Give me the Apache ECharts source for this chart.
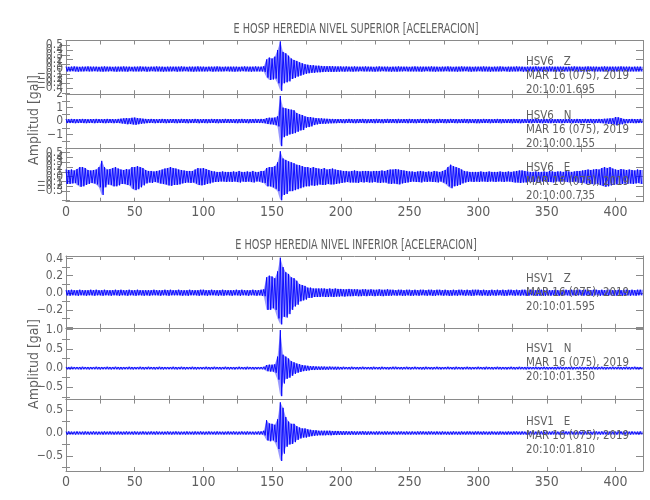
<!DOCTYPE html>
<html><head><meta charset="utf-8">
<script src="https://cdn.jsdelivr.net/npm/echarts@6/dist/echarts.min.js"></script>
<style>html,body{margin:0;padding:0;background:#fff}#c{width:650px;height:500px}</style>
</head><body><div id="c"></div>
<script>
// ---- time axis (seconds); amplitude envelopes read every 2 s (bin start = 2*i) ----
const xMax = 420;
const binStep = 2;
const xTickValues = [0, 50, 100, 150, 200, 250, 300, 350, 400];

const titleTop = 'E HOSP HEREDIA NIVEL SUPERIOR [ACELERACION]';
const titleBottom = 'E HOSP HEREDIA NIVEL INFERIOR [ACELERACION]';
const yAxisName = 'Amplitud [gal]';

const stations = ['HSV6   Z', 'HSV6   N', 'HSV6   E', 'HSV1   Z', 'HSV1   N', 'HSV1   E'];
const dates = ['MAR 16 (075), 2019', 'MAR 16 (075), 2019', 'MAR 16 (075), 2019', 'MAR 16 (075), 2019', 'MAR 16 (075), 2019', 'MAR 16 (075), 2019'];
const times = ['20:10:01.695', '20:10:00.155', '20:10:00.735', '20:10:01.595', '20:10:01.350', '20:10:01.810'];

// ---- HSV6 Z (upper level) ----
const z6Hi = [
.05,.045,.05,.055,.05,.045,.05,.05,.055,.05,
.05,.05,.045,.05,.055,.05,.05,.045,.05,.05,
.05,.055,.05,.05,.045,.05,.05,.055,.05,.05,
.045,.05,.05,.055,.05,.05,.045,.05,.05,.05,
.05,.05,.055,.05,.045,.05,.05,.05,.055,.05,
.05,.045,.05,.05,.05,.055,.05,.045,.05,.05,
.05,.05,.05,.045,.05,.055,.05,.05,.05,.055,
.05,.05,.06,.2,.24,.22,.26,.4,.58,.36,
.33,.28,.22,.19,.17,.14,.12,.1,.09,.08,
.08,.07,.07,.065,.06,.06,.06,.06,.055,.055,
.055,.05,.055,.05,.05,.055,.05,.05,.05,.055,
.05,.05,.045,.05,.055,.05,.05,.05,.045,.05,
.05,.055,.05,.05,.05,.045,.05,.055,.05,.05,
.05,.05,.05,.055,.05,.05,.045,.05,.05,.055,
.05,.045,.05,.05,.055,.05,.05,.05,.045,.05,
.05,.05,.055,.05,.05,.045,.05,.05,.055,.05,
.045,.05,.05,.05,.055,.05,.05,.045,.05,.05,
.05,.055,.05,.045,.05,.05,.055,.05,.05,.05,
.05,.05,.045,.05,.05,.055,.05,.05,.045,.05,
.055,.05,.05,.05,.045,.05,.055,.05,.05,.05,
.05,.05,.055,.05,.05,.05,.045,.05,.05,.05];
const z6Lo = [
-.05,-.05,-.045,-.05,-.055,-.05,-.05,-.045,-.05,-.05,
-.045,-.05,-.05,-.055,-.05,-.05,-.045,-.05,-.055,-.05,
-.05,-.05,-.055,-.045,-.05,-.05,-.05,-.05,-.045,-.055,
-.05,-.045,-.05,-.05,-.05,-.055,-.05,-.05,-.05,-.045,
-.055,-.05,-.05,-.045,-.05,-.05,-.055,-.05,-.05,-.05,
-.05,-.05,-.045,-.055,-.05,-.05,-.05,-.05,-.045,-.05,
-.05,-.055,-.05,-.05,-.045,-.05,-.05,-.055,-.05,-.05,
-.05,-.05,-.06,-.18,-.23,-.22,-.2,-.3,-.46,-.3,
-.28,-.26,-.21,-.19,-.16,-.14,-.12,-.1,-.09,-.08,
-.08,-.07,-.07,-.065,-.06,-.06,-.06,-.06,-.055,-.055,
-.05,-.055,-.05,-.05,-.055,-.05,-.05,-.045,-.05,-.05,
-.05,-.05,-.055,-.05,-.05,-.045,-.05,-.05,-.055,-.05,
-.055,-.05,-.05,-.045,-.05,-.05,-.05,-.05,-.05,-.055,
-.05,-.045,-.05,-.05,-.055,-.05,-.05,-.05,-.045,-.05,
-.05,-.05,-.055,-.05,-.05,-.045,-.05,-.055,-.05,-.05,
-.045,-.05,-.05,-.05,-.055,-.05,-.05,-.05,-.05,-.045,
-.05,-.055,-.05,-.05,-.05,-.045,-.055,-.05,-.05,-.05,
-.05,-.05,-.045,-.055,-.05,-.05,-.05,-.05,-.055,-.05,
-.055,-.05,-.05,-.05,-.045,-.05,-.05,-.055,-.05,-.05,
-.05,-.045,-.055,-.05,-.05,-.05,-.05,-.05,-.045,-.055,
-.05,-.05,-.05,-.045,-.055,-.05,-.05,-.05,-.05,-.05];

// ---- HSV6 N ----
const n6Hi = [
.15,.14,.16,.15,.14,.15,.16,.15,.14,.15,
.15,.16,.15,.14,.15,.16,.15,.15,.14,.16,
.18,.2,.22,.2,.24,.26,.22,.2,.18,.16,
.15,.16,.15,.14,.15,.16,.15,.14,.15,.15,
.15,.14,.16,.15,.15,.14,.15,.16,.15,.14,
.15,.15,.14,.16,.15,.15,.14,.15,.16,.15,
.15,.14,.15,.15,.16,.15,.14,.15,.15,.16,
.15,.16,.15,.22,.25,.24,.26,.35,1.87,1.0,
.95,.9,.85,.8,.6,.5,.45,.35,.3,.3,
.25,.22,.2,.2,.18,.17,.16,.16,.15,.15,
.15,.14,.15,.16,.15,.14,.15,.15,.16,.15,
.14,.15,.15,.16,.15,.14,.15,.16,.15,.15,
.15,.16,.14,.15,.15,.16,.15,.14,.15,.16,
.15,.15,.16,.15,.14,.15,.16,.15,.15,.14,
.16,.15,.15,.14,.15,.16,.15,.15,.14,.15,
.15,.14,.16,.15,.15,.14,.15,.16,.15,.15,
.14,.15,.15,.16,.15,.15,.14,.15,.16,.15,
.15,.16,.15,.14,.15,.16,.15,.15,.14,.15,
.15,.14,.15,.16,.15,.14,.16,.15,.15,.16,
.15,.16,.15,.15,.16,.15,.17,.18,.2,.2,
.3,.28,.22,.16,.15,.15,.16,.15,.15,.16];
const n6Lo = [
-.15,-.15,-.14,-.16,-.15,-.14,-.15,-.16,-.15,-.14,
-.16,-.15,-.14,-.15,-.16,-.15,-.14,-.16,-.15,-.15,
-.18,-.2,-.24,-.22,-.25,-.28,-.24,-.2,-.18,-.16,
-.15,-.14,-.16,-.15,-.15,-.14,-.16,-.15,-.14,-.15,
-.16,-.15,-.14,-.15,-.16,-.15,-.15,-.14,-.16,-.15,
-.15,-.16,-.15,-.14,-.15,-.16,-.15,-.15,-.14,-.15,
-.14,-.15,-.16,-.15,-.15,-.14,-.16,-.15,-.15,-.14,
-.15,-.15,-.16,-.22,-.24,-.25,-.3,-.4,-1.87,-1.2,
-1.1,-1.0,-.95,-.9,-.8,-.7,-.67,-.5,-.45,-.4,
-.3,-.25,-.22,-.2,-.2,-.18,-.17,-.16,-.16,-.15,
-.15,-.16,-.14,-.15,-.15,-.16,-.15,-.14,-.15,-.16,
-.15,-.14,-.16,-.15,-.15,-.16,-.14,-.15,-.15,-.14,
-.16,-.15,-.15,-.14,-.16,-.15,-.15,-.16,-.14,-.15,
-.15,-.16,-.14,-.15,-.16,-.15,-.14,-.15,-.16,-.15,
-.14,-.15,-.16,-.15,-.15,-.14,-.16,-.15,-.15,-.16,
-.16,-.15,-.15,-.14,-.16,-.15,-.15,-.14,-.16,-.15,
-.15,-.14,-.16,-.15,-.15,-.16,-.15,-.14,-.15,-.16,
-.14,-.15,-.15,-.16,-.14,-.15,-.16,-.15,-.15,-.14,
-.16,-.15,-.14,-.15,-.16,-.15,-.15,-.16,-.14,-.15,
-.15,-.15,-.16,-.14,-.15,-.16,-.18,-.2,-.22,-.24,
-.32,-.28,-.24,-.18,-.16,-.15,-.15,-.16,-.15,-.15];

// ---- HSV6 E ----
const e6Hi = [
.15,.14,.15,.13,.16,.2,.2,.18,.14,.13,
.14,.15,.2,.33,.2,.15,.16,.18,.2,.17,
.15,.14,.16,.15,.2,.2,.22,.2,.18,.14,
.12,.12,.11,.12,.13,.15,.17,.18,.2,.18,
.17,.15,.14,.13,.12,.12,.12,.15,.18,.17,
.18,.16,.14,.12,.11,.1,.1,.11,.1,.1,
.1,.11,.1,.12,.1,.1,.11,.1,.12,.1,
.1,.12,.12,.18,.2,.2,.22,.3,.53,.38,
.35,.32,.3,.28,.25,.24,.22,.2,.2,.18,
.2,.18,.17,.16,.18,.15,.16,.17,.15,.14,
.13,.12,.12,.11,.12,.13,.12,.11,.12,.12,
.12,.11,.12,.12,.12,.13,.12,.14,.15,.15,
.16,.15,.14,.13,.12,.11,.11,.1,.11,.12,
.11,.1,.11,.1,.12,.11,.1,.12,.14,.2,
.25,.22,.2,.18,.15,.12,.11,.1,.1,.1,
.1,.11,.1,.1,.11,.1,.1,.1,.11,.1,
.1,.11,.1,.11,.12,.13,.13,.12,.11,.1,
.1,.11,.1,.1,.11,.1,.12,.11,.1,.11,
.11,.1,.12,.11,.1,.11,.12,.12,.13,.14,
.15,.14,.15,.16,.15,.18,.2,.18,.2,.17,
.15,.14,.16,.15,.14,.15,.14,.13,.15,.14];
const e6Lo = [
-.15,-.15,-.14,-.13,-.17,-.21,-.2,-.17,-.15,-.13,
-.14,-.16,-.22,-.38,-.22,-.16,-.17,-.2,-.2,-.18,
-.15,-.15,-.17,-.18,-.25,-.28,-.26,-.22,-.18,-.14,
-.12,-.13,-.11,-.12,-.14,-.15,-.16,-.18,-.19,-.17,
-.17,-.16,-.14,-.13,-.12,-.13,-.12,-.14,-.17,-.18,
-.17,-.15,-.14,-.12,-.11,-.11,-.1,-.1,-.11,-.1,
-.11,-.1,-.11,-.12,-.1,-.11,-.1,-.11,-.12,-.1,
-.1,-.12,-.13,-.2,-.2,-.22,-.25,-.3,-.49,-.38,
-.36,-.3,-.3,-.28,-.26,-.24,-.22,-.2,-.2,-.18,
-.19,-.18,-.16,-.17,-.17,-.15,-.16,-.16,-.15,-.14,
-.13,-.12,-.11,-.12,-.12,-.12,-.13,-.11,-.12,-.11,
-.12,-.12,-.11,-.12,-.13,-.12,-.12,-.14,-.15,-.14,
-.15,-.16,-.14,-.13,-.12,-.11,-.1,-.11,-.11,-.12,
-.1,-.11,-.1,-.11,-.11,-.12,-.1,-.12,-.15,-.2,
-.24,-.2,-.19,-.17,-.14,-.12,-.11,-.1,-.11,-.1,
-.11,-.1,-.1,-.11,-.1,-.1,-.11,-.1,-.1,-.11,
-.1,-.1,-.11,-.12,-.12,-.13,-.12,-.12,-.1,-.11,
-.11,-.1,-.11,-.1,-.1,-.11,-.11,-.12,-.1,-.1,
-.1,-.11,-.11,-.12,-.11,-.1,-.12,-.13,-.12,-.15,
-.14,-.15,-.16,-.15,-.17,-.19,-.21,-.2,-.18,-.17,
-.16,-.15,-.15,-.14,-.15,-.14,-.15,-.14,-.13,-.15];

// ---- HSV1 Z (lower level) ----
const z1Hi = [
.03,.03,.035,.03,.03,.035,.03,.03,.03,.035,
.03,.035,.03,.03,.035,.03,.03,.03,.035,.03,
.035,.03,.03,.035,.03,.03,.035,.03,.03,.03,
.03,.03,.035,.03,.03,.03,.035,.03,.035,.03,
.03,.035,.03,.03,.03,.035,.03,.03,.03,.035,
.035,.03,.03,.035,.03,.03,.03,.035,.03,.03,
.03,.03,.035,.03,.035,.03,.03,.03,.035,.03,
.03,.035,.04,.18,.2,.19,.17,.25,.41,.3,
.24,.22,.18,.17,.14,.1,.09,.08,.06,.06,
.05,.05,.05,.05,.05,.045,.05,.045,.05,.045,
.045,.04,.04,.045,.04,.04,.04,.035,.04,.04,
.035,.04,.035,.035,.04,.035,.035,.04,.035,.035,
.03,.035,.035,.03,.035,.035,.03,.035,.03,.035,
.035,.03,.035,.035,.03,.035,.035,.03,.035,.03,
.03,.035,.03,.035,.035,.03,.035,.03,.035,.035,
.035,.03,.035,.03,.03,.035,.03,.035,.03,.035,
.03,.035,.035,.03,.035,.03,.035,.035,.03,.035,
.035,.03,.03,.035,.03,.035,.03,.03,.035,.03,
.03,.035,.035,.03,.035,.03,.035,.035,.03,.035,
.035,.03,.035,.035,.03,.035,.03,.035,.035,.03,
.03,.035,.03,.035,.035,.03,.035,.03,.035,.035];
const z1Lo = [
-.03,-.035,-.03,-.03,-.035,-.03,-.03,-.035,-.03,-.03,
-.035,-.03,-.03,-.035,-.03,-.03,-.035,-.03,-.03,-.035,
-.03,-.03,-.035,-.03,-.03,-.035,-.03,-.03,-.035,-.03,
-.035,-.03,-.03,-.03,-.035,-.03,-.03,-.035,-.03,-.03,
-.03,-.03,-.035,-.03,-.035,-.03,-.03,-.03,-.035,-.03,
-.03,-.035,-.03,-.03,-.03,-.035,-.03,-.035,-.03,-.03,
-.035,-.03,-.03,-.035,-.03,-.03,-.035,-.03,-.03,-.035,
-.03,-.035,-.04,-.2,-.2,-.18,-.2,-.3,-.37,-.28,
-.29,-.25,-.2,-.16,-.14,-.1,-.09,-.08,-.06,-.06,
-.05,-.05,-.05,-.045,-.05,-.05,-.045,-.05,-.045,-.045,
-.04,-.045,-.04,-.04,-.04,-.035,-.04,-.04,-.035,-.04,
-.035,-.035,-.04,-.035,-.035,-.04,-.035,-.035,-.035,-.03,
-.035,-.03,-.035,-.035,-.03,-.035,-.035,-.03,-.035,-.03,
-.03,-.035,-.03,-.035,-.035,-.03,-.03,-.035,-.03,-.035,
-.035,-.03,-.035,-.03,-.03,-.035,-.03,-.035,-.035,-.03,
-.03,-.035,-.03,-.035,-.035,-.03,-.035,-.03,-.03,-.035,
-.035,-.03,-.03,-.035,-.03,-.035,-.03,-.035,-.035,-.03,
-.03,-.035,-.035,-.03,-.035,-.03,-.035,-.03,-.03,-.035,
-.035,-.03,-.03,-.035,-.03,-.035,-.03,-.03,-.035,-.03,
-.03,-.035,-.03,-.03,-.035,-.03,-.035,-.035,-.03,-.035,
-.035,-.03,-.035,-.03,-.03,-.035,-.03,-.035,-.03,-.03];

// ---- HSV1 N ----
const n1Hi = [
.03,.03,.035,.03,.03,.03,.035,.03,.03,.03,
.03,.035,.03,.03,.03,.035,.03,.03,.035,.03,
.03,.03,.03,.035,.03,.03,.03,.035,.03,.03,
.035,.03,.03,.03,.035,.03,.03,.03,.03,.035,
.03,.03,.035,.03,.03,.03,.035,.03,.03,.03,
.03,.035,.03,.03,.035,.03,.03,.03,.035,.03,
.03,.03,.03,.035,.03,.03,.035,.03,.03,.03,
.03,.03,.035,.08,.09,.09,.1,.3,.99,.35,
.3,.25,.18,.15,.12,.1,.08,.07,.06,.05,
.05,.045,.04,.04,.04,.035,.04,.035,.035,.035,
.03,.035,.03,.03,.035,.03,.03,.03,.035,.03,
.03,.03,.035,.03,.03,.035,.03,.03,.03,.035,
.035,.03,.03,.03,.035,.03,.03,.035,.03,.03,
.03,.035,.03,.03,.03,.035,.03,.03,.03,.035,
.03,.03,.035,.03,.03,.03,.035,.03,.03,.03,
.035,.03,.03,.035,.03,.03,.03,.035,.03,.03,
.03,.03,.035,.03,.03,.035,.03,.03,.035,.03,
.03,.035,.03,.03,.035,.03,.03,.03,.03,.035,
.035,.03,.03,.03,.035,.03,.03,.035,.03,.03,
.03,.03,.035,.03,.03,.035,.03,.03,.03,.035,
.03,.035,.03,.03,.035,.03,.03,.035,.03,.03];
const n1Lo = [
-.03,-.035,-.03,-.03,-.03,-.035,-.03,-.03,-.035,-.03,
-.03,-.03,-.035,-.03,-.03,-.03,-.035,-.03,-.03,-.035,
-.035,-.03,-.03,-.03,-.035,-.03,-.03,-.03,-.035,-.03,
-.03,-.03,-.035,-.03,-.03,-.035,-.03,-.03,-.03,-.03,
-.035,-.03,-.03,-.035,-.03,-.03,-.03,-.035,-.03,-.03,
-.03,-.03,-.035,-.03,-.03,-.03,-.035,-.03,-.03,-.035,
-.03,-.035,-.03,-.03,-.03,-.035,-.03,-.03,-.035,-.03,
-.03,-.03,-.035,-.08,-.09,-.09,-.12,-.3,-.73,-.4,
-.28,-.25,-.2,-.15,-.12,-.1,-.08,-.07,-.06,-.05,
-.05,-.045,-.045,-.04,-.04,-.04,-.035,-.035,-.04,-.035,
-.035,-.03,-.03,-.035,-.03,-.03,-.035,-.03,-.03,-.03,
-.03,-.035,-.03,-.03,-.035,-.03,-.03,-.035,-.03,-.03,
-.03,-.03,-.035,-.03,-.03,-.035,-.03,-.03,-.03,-.035,
-.035,-.03,-.03,-.035,-.03,-.03,-.035,-.03,-.03,-.03,
-.03,-.035,-.03,-.03,-.035,-.03,-.03,-.035,-.03,-.03,
-.03,-.03,-.035,-.03,-.03,-.035,-.03,-.03,-.035,-.03,
-.035,-.03,-.03,-.035,-.03,-.03,-.03,-.035,-.03,-.03,
-.03,-.03,-.035,-.03,-.03,-.035,-.03,-.03,-.035,-.03,
-.03,-.035,-.03,-.03,-.035,-.03,-.03,-.03,-.035,-.03,
-.035,-.03,-.03,-.035,-.03,-.03,-.035,-.03,-.03,-.03,
-.03,-.03,-.035,-.03,-.03,-.035,-.03,-.03,-.035,-.03];

// ---- HSV1 E ----
const e1Hi = [
.03,.035,.03,.03,.035,.03,.03,.035,.03,.03,
.035,.03,.03,.03,.035,.03,.035,.03,.03,.035,
.03,.03,.035,.03,.03,.035,.03,.03,.035,.03,
.03,.035,.03,.035,.03,.03,.03,.035,.03,.03,
.035,.03,.03,.03,.035,.03,.03,.035,.03,.035,
.03,.03,.035,.03,.03,.035,.03,.03,.03,.035,
.03,.035,.03,.03,.035,.03,.035,.03,.03,.03,
.035,.035,.05,.28,.21,.2,.18,.3,.67,.55,
.35,.25,.2,.2,.15,.12,.1,.1,.08,.07,
.06,.06,.05,.05,.05,.05,.05,.045,.045,.045,
.04,.04,.04,.035,.04,.035,.035,.035,.04,.035,
.035,.035,.03,.035,.035,.03,.035,.035,.03,.035,
.03,.035,.035,.03,.035,.03,.035,.03,.035,.035,
.035,.03,.035,.035,.03,.035,.03,.035,.03,.03,
.03,.035,.03,.03,.035,.03,.035,.035,.03,.035,
.035,.03,.035,.03,.03,.035,.03,.03,.035,.03,
.03,.035,.03,.035,.035,.03,.035,.03,.03,.035,
.035,.03,.03,.035,.03,.035,.03,.035,.035,.03,
.03,.035,.035,.03,.035,.03,.03,.035,.03,.035,
.035,.03,.03,.035,.03,.035,.035,.03,.035,.03,
.03,.035,.035,.03,.035,.03,.035,.03,.03,.035];
const e1Lo = [
-.035,-.03,-.03,-.035,-.03,-.03,-.035,-.03,-.035,-.03,
-.03,-.035,-.03,-.035,-.03,-.03,-.03,-.035,-.03,-.03,
-.035,-.03,-.03,-.03,-.035,-.03,-.035,-.03,-.03,-.035,
-.03,-.03,-.035,-.03,-.03,-.035,-.03,-.03,-.035,-.03,
-.03,-.035,-.03,-.035,-.03,-.03,-.035,-.03,-.03,-.03,
-.035,-.03,-.03,-.03,-.035,-.03,-.03,-.035,-.03,-.03,
-.03,-.03,-.035,-.03,-.03,-.035,-.03,-.03,-.035,-.03,
-.035,-.03,-.05,-.16,-.18,-.16,-.2,-.35,-.61,-.45,
-.3,-.25,-.24,-.2,-.15,-.12,-.1,-.1,-.08,-.07,
-.06,-.055,-.05,-.05,-.05,-.045,-.05,-.045,-.045,-.04,
-.04,-.04,-.035,-.04,-.035,-.04,-.035,-.035,-.035,-.04,
-.035,-.03,-.035,-.035,-.03,-.035,-.035,-.03,-.035,-.03,
-.035,-.03,-.03,-.035,-.03,-.035,-.03,-.035,-.03,-.03,
-.03,-.035,-.03,-.03,-.035,-.03,-.035,-.03,-.035,-.035,
-.035,-.03,-.035,-.035,-.03,-.035,-.03,-.03,-.035,-.03,
-.03,-.035,-.03,-.035,-.035,-.03,-.035,-.035,-.03,-.035,
-.035,-.03,-.035,-.03,-.03,-.035,-.03,-.035,-.035,-.03,
-.03,-.035,-.035,-.03,-.035,-.03,-.035,-.03,-.03,-.035,
-.035,-.03,-.03,-.035,-.03,-.035,-.035,-.03,-.035,-.03,
-.03,-.035,-.035,-.03,-.035,-.03,-.03,-.035,-.03,-.035,
-.035,-.03,-.03,-.035,-.03,-.035,-.03,-.03,-.035,-.03];

// ---- y-axis tick label values per panel ----
const z6Labels = [0.6,0.5,0.4,0.3,0.2,0.1,0,-0.1,-0.2,-0.3,-0.4,-0.5];
const n6Labels = [2,1,0,-1];
const e6Labels = [0.6,0.5,0.4,0.3,0.2,0.1,0,-0.1,-0.2,-0.3,-0.4];
const z1Labels = [0.4,0.2,0,-0.2];
const n1Labels = [1.0,0.5,0,-0.5];
const e1Labels = [0.5,0,-0.5];

// ---------------- build chart ----------------
const FONT = "'Liberation Sans Narrow','DejaVu Sans Condensed','Liberation Sans',sans-serif";
const TXT = '#5f5f5f', AXC = '#8a8a8a', TRACE = '#0000ff';

function zig(hi, lo) {
  const d = [];
  for (let i = 0; i < hi.length; i++) {
    d.push([i * binStep, hi[i]]);
    d.push([i * binStep + 1, lo[i]]);
  }
  return d;
}
function bins(hi, lo) {
  return hi.map((h, i) => [i * binStep, h, lo[i],
    i + 1 < hi.length ? hi[i + 1] : h, i + 1 < lo.length ? lo[i + 1] : lo[i]]);
}
function renderEnvelope(params, api) {
  const t = api.value(0);
  const p1 = api.coord([t, api.value(1)]);
  const p2 = api.coord([t + binStep, api.value(3)]);
  const p3 = api.coord([t + binStep, api.value(4)]);
  const p4 = api.coord([t, api.value(2)]);
  return {type:'polygon', shape:{points:[p1, p2, p3, p4]},
    style:{fill:'rgba(30,30,255,0.45)', stroke:null}};
}
const fmt1 = v => (v < 0 ? '\u2212' : '') + Math.abs(v).toFixed(1);
const fmt0 = v => (v < 0 ? '\u2212' : '') + Math.abs(v).toFixed(0);

const panels = [
  {hi:z6Hi, lo:z6Lo, min:-0.53, max:0.6, labels:z6Labels, fmt:fmt1, major:[0.6,0.4,0.2,0,-0.2,-0.4], minor:[0.5,0.3,0.1,-0.1,-0.3,-0.5], top:40.5, h:53.7, xlab:false, txtTop:55},
  {hi:n6Hi, lo:n6Lo, min:-2, max:2, labels:n6Labels, fmt:fmt0, major:[2,1,0,-1,-2], minor:[1.5,0.5,-0.5,-1.5], top:94.2, h:53.7, xlab:false, txtTop:109},
  {hi:e6Hi, lo:e6Lo, min:-0.52, max:0.6, labels:e6Labels, fmt:fmt1, major:[0.6,0.4,0.2,0,-0.2,-0.4], minor:[0.5,0.3,0.1,-0.1,-0.3,-0.5], top:147.9, h:53.8, xlab:true, txtTop:161},
  {hi:z1Hi, lo:z1Lo, min:-0.41, max:0.43, labels:z1Labels, fmt:fmt1, major:[0.4,0.2,0,-0.2,-0.4], minor:[0.3,0.1,-0.1,-0.3], top:256, h:71.8, xlab:false, txtTop:272},
  {hi:n1Hi, lo:n1Lo, min:-0.82, max:1.05, labels:n1Labels, fmt:fmt1, major:[1,0.5,0,-0.5], minor:[0.75,0.25,-0.25,-0.75], top:327.8, h:71.8, xlab:false, txtTop:342},
  {hi:e1Hi, lo:e1Lo, min:-0.83, max:0.73, labels:e1Labels, fmt:fmt1, major:[0.5,0,-0.5], minor:[0.25,-0.25,-0.75], top:399.6, h:71.4, xlab:true, txtTop:415}
];

const grid = [], xAxis = [], yAxis = [], series = [], graphic = [];
panels.forEach((p, i) => {
  grid.push({left:66, width:577, top:p.top, height:p.h, show:false});
  const xBase = {type:'value', gridIndex:i, min:0, max:xMax, interval:25,
    axisLine:{show:true, onZero:false, lineStyle:{color:AXC, width:1}},
    axisTick:{show:true, inside:true, length:4, lineStyle:{color:AXC}},
    splitLine:{show:false}};
  xAxis.push(Object.assign({}, xBase, {position:'bottom',
    axisLabel:{show:p.xlab, customValues:xTickValues, color:TXT, fontFamily:FONT, fontSize:14, margin:4}}));
  xAxis.push(Object.assign({}, xBase, {position:'top', axisLabel:{show:false}}));
  const yBase = {type:'value', gridIndex:i, min:p.min, max:p.max, splitLine:{show:false}};
  yAxis.push(Object.assign({}, yBase, {position:'left',
    axisLine:{show:true, onZero:false, lineStyle:{color:AXC}},
    axisTick:{show:true, inside:true, length:7, customValues:p.major, lineStyle:{color:AXC}},
    axisLabel:{show:true, customValues:p.labels, formatter:p.fmt, color:TXT, fontFamily:FONT, fontSize:12, margin:3}}));
  yAxis.push(Object.assign({}, yBase, {position:'left', axisLine:{show:false},
    axisTick:{show:true, inside:true, length:4, customValues:p.minor, lineStyle:{color:AXC}}, axisLabel:{show:false}}));
  yAxis.push(Object.assign({}, yBase, {position:'right',
    axisLine:{show:true, onZero:false, lineStyle:{color:AXC}},
    axisTick:{show:true, inside:true, length:7, customValues:p.major, lineStyle:{color:AXC}}, axisLabel:{show:false}}));
  yAxis.push(Object.assign({}, yBase, {position:'right', axisLine:{show:false},
    axisTick:{show:true, inside:true, length:4, customValues:p.minor, lineStyle:{color:AXC}}, axisLabel:{show:false}}));
  series.push({type:'custom', xAxisIndex:2*i, yAxisIndex:4*i, data:bins(p.hi, p.lo),
    renderItem:renderEnvelope, clip:true, silent:true, z:2});
  series.push({type:'line', xAxisIndex:2*i, yAxisIndex:4*i, data:zig(p.hi, p.lo),
    showSymbol:false, symbol:'none', clip:true, silent:true, sampling:null,
    lineStyle:{color:TRACE, width:0.9}, z:3});
  graphic.push({type:'text', x:526, y:p.txtTop, silent:true, z:10, scaleX:0.88,
    style:{text:stations[i] + '\n' + dates[i] + '\n' + times[i], fill:TXT,
      font:'13px ' + FONT, lineHeight:14, verticalAlign:'top', align:'left'}});
});

graphic.push({type:'text', x:356, y:29, silent:true, scaleX:0.77,
  style:{text:titleTop, fill:TXT, font:'14px ' + FONT, align:'center', verticalAlign:'middle'}});
graphic.push({type:'text', x:356, y:245, silent:true, scaleX:0.77,
  style:{text:titleBottom, fill:TXT, font:'14px ' + FONT, align:'center', verticalAlign:'middle'}});
graphic.push({type:'text', x:34, y:120, rotation:Math.PI/2, silent:true,
  style:{text:yAxisName, fill:TXT, font:'14px ' + FONT, align:'center', verticalAlign:'middle'}});
graphic.push({type:'text', x:34, y:364, rotation:Math.PI/2, silent:true,
  style:{text:yAxisName, fill:TXT, font:'14px ' + FONT, align:'center', verticalAlign:'middle'}});

const chart = echarts.init(document.getElementById('c'), null, {renderer:'canvas'});
chart.setOption({animation:false, backgroundColor:'#fff', grid, xAxis, yAxis, series, graphic});
</script>
</body></html>
